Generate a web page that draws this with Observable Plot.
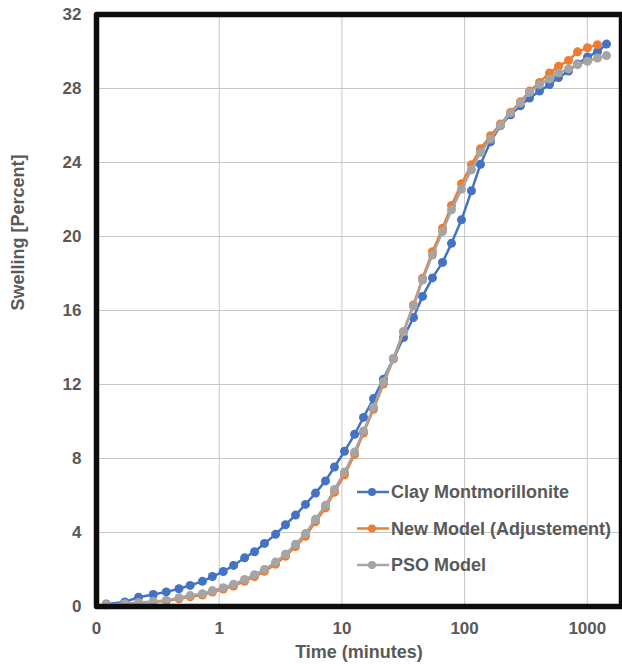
<!DOCTYPE html>
<html>
<head>
<meta charset="utf-8">
<script src="https://cdn.jsdelivr.net/npm/d3@7"></script>
<script src="https://cdn.jsdelivr.net/npm/@observablehq/plot@0.6"></script>
<style>
  html, body { margin: 0; padding: 0; background: #fff; }
  #chart { width: 622px; height: 666px; }
</style>
</head>
<body>
<div id="chart"></div>
<script>
// Time (minutes) (log axis)
const time = [0.12, 0.17, 0.22, 0.29, 0.37, 0.47, 0.58, 0.73, 0.88, 1.08, 1.31, 1.61, 1.94, 2.34, 2.88, 3.47, 4.19, 5.05, 6.09, 7.35, 8.7, 10.5, 12.7, 15.0, 18.1, 21.8, 26.3, 31.8, 38.3, 45.4, 54.7, 66.1, 78.2, 94.3, 113.8, 134.7, 162.6, 196, 237, 285, 338, 408, 492, 583, 703, 832, 1004, 1211, 1434];

const clayMontmorillonite = [0.14, 0.25, 0.50, 0.65, 0.79, 0.96, 1.14, 1.36, 1.62, 1.89, 2.22, 2.63, 2.96, 3.41, 3.90, 4.42, 4.94, 5.52, 6.13, 6.79, 7.54, 8.39, 9.31, 10.22, 11.24, 12.29, 13.40, 14.54, 15.62, 16.76, 17.76, 18.60, 19.63, 20.90, 22.47, 23.90, 25.12, 25.99, 26.58, 27.07, 27.48, 27.86, 28.21, 28.59, 28.94, 29.32, 29.70, 29.99, 30.40];

const newModel = [0.09, 0.13, 0.19, 0.24, 0.30, 0.42, 0.53, 0.62, 0.78, 0.94, 1.11, 1.36, 1.62, 1.90, 2.29, 2.72, 3.24, 3.80, 4.58, 5.33, 6.18, 7.12, 8.22, 9.38, 10.66, 12.03, 13.38, 14.85, 16.30, 17.75, 19.18, 20.45, 21.68, 22.85, 23.88, 24.75, 25.45, 26.08, 26.72, 27.28, 27.86, 28.33, 28.84, 29.20, 29.52, 29.98, 30.20, 30.37];

const psoModel = [0.10, 0.15, 0.22, 0.27, 0.33, 0.47, 0.59, 0.69, 0.86, 1.02, 1.20, 1.46, 1.72, 2.00, 2.40, 2.83, 3.37, 3.94, 4.72, 5.47, 6.33, 7.27, 8.35, 9.49, 10.76, 12.14, 13.41, 14.85, 16.24, 17.65, 19.00, 20.27, 21.44, 22.56, 23.61, 24.54, 25.27, 26.02, 26.68, 27.22, 27.79, 28.21, 28.52, 28.84, 29.06, 29.29, 29.47, 29.65, 29.78];

const seriesNames = ["Clay Montmorillonite", "New Model (Adjustement)", "PSO Model"];
const seriesColors = ["#4472c4", "#ed7d31", "#a5a5a5"];
const xTicks = [0.1, 1, 10, 100, 1000];
const yTicks = [0, 4, 8, 12, 16, 20, 24, 28, 32];
const xLabel = "Time (minutes)";
const yLabel = "Swelling [Percent]";

const seriesValues = [clayMontmorillonite, newModel, psoModel];
const tables = seriesValues.map(vals => vals.map((v, i) => ({t: time[i], v})));

const textColor = "#595959";
const marks = [
  Plot.gridX(xTicks, {stroke: "#c6c6c6", strokeOpacity: 1, strokeWidth: 1}),
  Plot.gridY(yTicks, {stroke: "#c6c6c6", strokeOpacity: 1, strokeWidth: 1}),
  Plot.axisX(xTicks, {tickSize: 0, tickPadding: 15, fontSize: 17, fontWeight: "bold", fill: textColor,
    tickFormat: d => d < 1 ? "0" : String(d), label: null}),
  Plot.axisY(yTicks, {tickSize: 0, tickPadding: 15, fontSize: 17, fontWeight: "bold", fill: textColor, label: null}),
];
tables.forEach((tab, k) => {
  marks.push(Plot.line(tab, {x: "t", y: "v", stroke: seriesColors[k], strokeWidth: 2.5}));
  marks.push(Plot.dot(tab, {x: "t", y: "v", fill: seriesColors[k], r: 4.5}));
});
marks.push(Plot.frame({stroke: "#0d0d0d", strokeWidth: 5.5, strokeLinejoin: "round"}));
marks.push(Plot.text([xLabel], {frameAnchor: "bottom", dy: 51, fontSize: 18, fontWeight: "bold", fill: textColor}));
marks.push(Plot.text([yLabel], {frameAnchor: "left", dx: -78, rotate: -90, fontSize: 18, fontWeight: "bold", fill: textColor}));

const svg = Plot.plot({
  width: 622,
  height: 666,
  marginLeft: 96,
  marginRight: 1,
  marginTop: 14,
  marginBottom: 60,
  style: {fontFamily: "'Liberation Sans', Arial, sans-serif", background: "#fff", color: textColor},
  x: {type: "log", domain: [0.1, 1900]},
  y: {domain: [0, 32]},
  marks
});

// Legend inside the plot area (bottom right)
const lg = d3.select(svg).append("g")
  .attr("font-family", "'Liberation Sans', Arial, sans-serif")
  .attr("text-anchor", "start");
seriesNames.forEach((name, i) => {
  const y = 492 + i * 36.5;
  lg.append("line").attr("x1", 357).attr("x2", 389).attr("y1", y).attr("y2", y)
    .attr("stroke", seriesColors[i]).attr("stroke-width", 2.5);
  lg.append("circle").attr("cx", 372).attr("cy", y).attr("r", 4).attr("fill", seriesColors[i]);
  lg.append("text").attr("x", 391).attr("y", y).attr("dy", "0.35em")
    .attr("text-anchor", "start")
    .attr("font-size", 18).attr("font-weight", "bold").attr("fill", textColor).text(name);
});

document.getElementById("chart").appendChild(svg);
</script>
</body>
</html>
